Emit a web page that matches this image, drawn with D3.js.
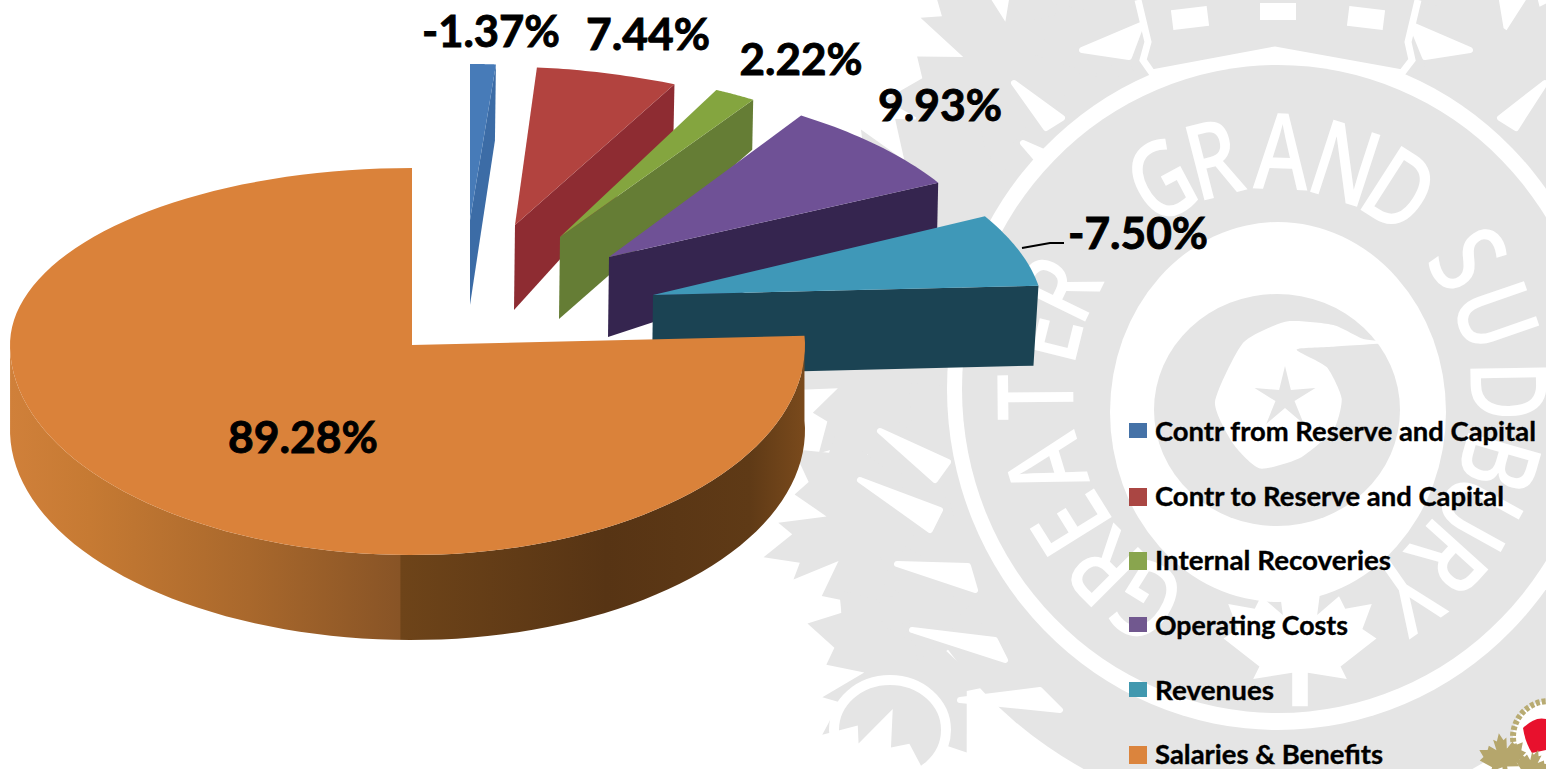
<!DOCTYPE html>
<html><head><meta charset="utf-8">
<style>html,body{margin:0;padding:0;background:#fff;overflow:hidden}svg{display:block}</style>
<script src="https://cdn.jsdelivr.net/npm/d3@7/dist/d3.min.js"></script>
</head><body><svg id="c" width="1546" height="769"></svg>
<script>
// ---- data ----
const categories = ["Contr from Reserve and Capital","Contr to Reserve and Capital","Internal Recoveries","Operating Costs","Revenues","Salaries & Benefits"];
const values = [-1.37, 7.44, 2.22, 9.93, -7.50, 89.28];
const legendColors = ["#4572a7","#aa4643","#89a54e","#71588f","#4198af","#db843d"];
const topColors = ["#477bb8","#b2433f","#84a53f","#6f5196","#3f98b8","#da823a"];
const sideColors = ["#3c6ca6","#8e2c32","#657d35","#35254f","#1b4353","#7a4a1c"];
// ---- layout of the exploded wedges and labels ----
const wedgeLayout = [
 {ax:470,ay:220,rx0:355,rx1:355,ry:156,dA:85,dE:76},
 {ax:515,ay:225,rx0:300,rx1:352,ry:158,dA:85,dE:50},
 {ax:560,ay:237,rx0:345,rx1:348,ry:165,dA:82,dE:50},
 {ax:609,ay:257,rx0:346,rx1:366,ry:170,dA:80,dE:46},
 {ax:653,ay:295,rx0:369,rx1:386,ry:180,dA:80,dE:80}
];
const labelLayout = [[491,30,138],[648,33,124],[801,58,123],[940,104,124],[1138,232,140],[303,436,150]];
const legendWidths = [381,349,236,193,119,228];
const legendY = [431,496,560,625,690,754];

const svg = d3.select("#c");
const defs = svg.append("defs");
const G = "#e5e5e5";

// ---- watermark ----
const wm = svg.append("g").attr("class","watermark");
const lineC = d3.line().curve(d3.curveCardinalClosed.tension(0.4));
const lineL = d3.line().curve(d3.curveLinearClosed);
const leafShape = [[0,-1],[.14,-.68],[.28,-.78],[.22,-.32],[.5,-.56],[.58,-.4],[.92,-.46],[.8,-.14],[.98,-.02],[.52,.34],[.6,.5],[.1,.42],[.1,.85],[-.1,.85],[-.1,.42],[-.6,.5],[-.52,.34],[-.98,-.02],[-.8,-.14],[-.92,-.46],[-.58,-.4],[-.5,-.56],[-.22,-.32],[-.28,-.78],[-.14,-.68]];
function leaf(g,x,y,s,rot,fill){g.append("path").attr("d",lineL(leafShape)).attr("transform",`translate(${x},${y}) rotate(${rot}) scale(${s})`).attr("fill",fill);}
wm.append("ellipse").attr("cx",1278).attr("cy",389).attr("rx",415).attr("ry",430).attr("fill",G);
[[1010,70,125,-40],[925,200,115,-62],[870,370,95,-85],[865,530,105,-105],[905,670,105,-128],[925,600,60,-110],[1110,30,80,-20],[1500,80,120,40],[1600,260,100,70]].forEach(l=>leaf(wm,l[0],l[1],l[2],l[3],G));
// white wedges between the leaves: a rounded tip pointing outward, opening toward the ring
const cuts=[[1082,50,1141,25,1129,57],[1470,50,1412,25,1425,57],[1014,83,1062,118,1046,128],[1023,143,1062,160,1048,172],[1545,83,1500,118,1516,128],
 [880,431,948,462,935,480],[897,564,968,566,975,590],[860,480,940,510,930,530],[912,630,995,640,1005,660],[960,700,1040,690,1060,710],[1000,250,1030,225,1018,260],[945,320,990,300,975,330]];
const cutG=wm.append("g").attr("fill","#fff").attr("stroke","#fff").attr("stroke-width",6).attr("stroke-linejoin","round");
cuts.forEach(c=>cutG.append("path").attr("d",`M${c[0]},${c[1]}L${c[2]},${c[3]}L${c[4]},${c[5]}Z`));
wm.append("ellipse").attr("cx",890).attr("cy",730).attr("rx",56).attr("ry",50).attr("fill","none").attr("stroke","#fff").attr("stroke-width",10);
// rings
wm.append("ellipse").attr("cx",1278).attr("cy",389).attr("rx",331).attr("ry",341).attr("fill","#fff");
wm.append("ellipse").attr("cx",1278).attr("cy",389).attr("rx",316).attr("ry",324).attr("fill",G);
wm.append("ellipse").attr("cx",1278).attr("cy",412).attr("rx",168).attr("ry",190).attr("fill","#fff");
leaf(wm,1300,640,78,0,"#fff");
// swirl
wm.append("ellipse").attr("cx",1277).attr("cy",410).attr("rx",123).attr("ry",116).attr("fill",G);
const swirl=[[870,350],[790,340],[700,300],[560,290],[430,350],[345,520],[400,640],[480,710],[600,680],[700,600],[725,510],[680,420],[590,370],[700,362]].map(p=>[1100+p[0]/3,220+p[1]/2.856]);
wm.append("path").attr("d",lineC(swirl)).attr("fill","#fff");
const star=d3.range(10).map(i=>{const r=i%2?10:32,a=i*Math.PI/5;return [1285+r*Math.sin(a),398-r*Math.cos(a)];});
wm.append("path").attr("d",lineL(star)).attr("fill",G);
// crown
const crown=[[1138,0],[1148,42],[1143,60],[1152,73],[1275,50],[1402,73],[1412,60],[1408,42],[1418,0]];
wm.append("path").attr("d",d3.line()(crown)).attr("fill",G).attr("stroke","#fff").attr("stroke-width",7);
[[1172,8,36,20,-7],[1260,3,36,17,0],[1348,8,36,20,7]].forEach(r=>wm.append("rect").attr("x",r[0]).attr("y",r[1]).attr("width",r[2]).attr("height",r[3]).attr("fill","#fff").attr("transform",`rotate(${r[4]},${r[0]+18},${r[1]+10})`));
// ring lettering
const ringLetters=[["G",-28],["R",-14.4],["A",2.3],["N",18],["D",32.7],["S",56],["U",71],["D",89],["B",106],["U",119],["R",132],["Y",145],["R",-64],["E",-76],["T",-90.5],["A",-107],["E",-122],["R",-135],["G",-148]];
wm.selectAll("text.ring").data(ringLetters).join("text").attr("class","ring")
 .attr("transform",d=>{const a=d[1]*Math.PI/180;return `translate(${1272+240*Math.sin(a)},${395-247*Math.cos(a)}) rotate(${d[1]}) scale(.78,1)`;})
 .attr("text-anchor","middle").attr("dominant-baseline","central")
 .attr("font-family","'Open Sans',sans-serif").attr("font-weight",600).attr("font-size",106).attr("fill","#fff").text(d=>d[0]);
// small logo, lower right corner
const logo=svg.append("g").attr("class","logo");
logo.append("circle").attr("cx",1549).attr("cy",737).attr("r",36).attr("fill","#fff").attr("stroke","#b8ab72").attr("stroke-width",6).attr("stroke-dasharray","4 2");
logo.append("path").attr("d","M1523,728Q1535,716 1546,719L1546,750L1532,753Q1525,742 1523,728Z").attr("fill","#e8112d");
leaf(logo,1503,757,24,-10,"#b5a66c");
leaf(logo,1532,767,18,20,"#b5a66c");

// ---- pie ----
const pie=d3.pie().sort(null).value(d=>Math.abs(d)).startAngle(0).endAngle(2*Math.PI);
const arcs=pie(values);
const chart=svg.append("g").attr("class","pie");
const line=d3.line();
arcs.slice(0,5).forEach((d,i)=>{
  const L=wedgeLayout[i];
  const pt=(t)=>{const a=d.startAngle+(d.endAngle-d.startAngle)*t,rx=L.rx0+(L.rx1-L.rx0)*t;return [L.ax+rx*Math.sin(a),L.ay-L.ry*Math.cos(a)];};
  const rim=d3.range(0,25).map(k=>pt(k/24));
  const end=pt(1);
  const g=chart.append("g");
  g.append("path").attr("fill",sideColors[i]).attr("d",line([[L.ax,L.ay],end,[end[0]-(i==4?5:1),end[1]+L.dE],[L.ax-(i==0?0:1),L.ay+L.dA]])+"Z");
  g.append("path").attr("fill",topColors[i]).attr("d",line([[L.ax,L.ay],...rim])+"Z");
});
// orange slice
const O=arcs[5], ox=412, oy=345;
const opt=a=>{const s=Math.sin(a),c=Math.cos(a);return [ox+(s>0?393:402)*s, oy-(c>0?177:210)*c];};
const steps=d3.range(0,121).map(k=>O.startAngle+(O.endAngle-O.startAngle)*k/120);
const grad=defs.append("linearGradient").attr("id","oside").attr("gradientUnits","userSpaceOnUse").attr("x1",10).attr("x2",805).attr("y1",0).attr("y2",0);
[[0,"#d0803a"],[.1,"#c67a33"],[.3,"#a9682c"],[.49,"#885426"],[.492,"#6e4419"],[.75,"#573414"],[.93,"#5f3a16"],[1,"#7a4a1c"]].forEach(s=>grad.append("stop").attr("offset",s[0]).attr("stop-color",s[1]));
const lower=steps.filter(a=>a<=Math.PI*1.5);
const lowerPts=lower.map(opt);
chart.append("path").attr("fill","url(#oside)").attr("d",line([...lowerPts,...lowerPts.slice().reverse().map(p=>[p[0],p[1]+85])])+"Z");
chart.append("path").attr("fill",topColors[5]).attr("d",line([[ox,oy],...steps.map(opt)])+"Z");

// ---- labels ----
const fmt=d=>d3.format(".2f")(d).replace("\u2212","-")+"%";
svg.append("g").attr("class","labels").selectAll("text").data(values).join("text")
 .attr("x",(d,i)=>labelLayout[i][0]).attr("y",(d,i)=>labelLayout[i][1])
 .attr("text-anchor","middle").attr("dominant-baseline","central")
 .attr("font-family","Lato,sans-serif").attr("font-weight",700).attr("font-size",44).attr("fill","#000").attr("stroke","#000").attr("stroke-width",.9)
 .attr("textLength",(d,i)=>labelLayout[i][2]).attr("lengthAdjust","spacingAndGlyphs")
 .text(fmt);
svg.append("path").attr("d",line([[1022,248],[1050,243],[1064,243]])).attr("fill","none").attr("stroke","#000").attr("stroke-width",2);

// ---- legend ----
const lg=svg.append("g").attr("class","legend").selectAll("g").data(categories).join("g");
lg.append("rect").attr("x",1129).attr("y",(d,i)=>legendY[i]-8).attr("width",18).attr("height",(d,i)=>i==0||i==3||i==4?15:18).attr("fill",(d,i)=>legendColors[i]);
lg.append("text").attr("x",1155).attr("y",(d,i)=>legendY[i]-1).attr("dominant-baseline","central")
 .attr("font-family","Lato,sans-serif").attr("font-weight",700).attr("font-size",27).attr("fill","#000").attr("stroke","#000").attr("stroke-width",.35)
 .attr("textLength",(d,i)=>legendWidths[i]).attr("lengthAdjust","spacingAndGlyphs").text(d=>d);
</script></body></html>
